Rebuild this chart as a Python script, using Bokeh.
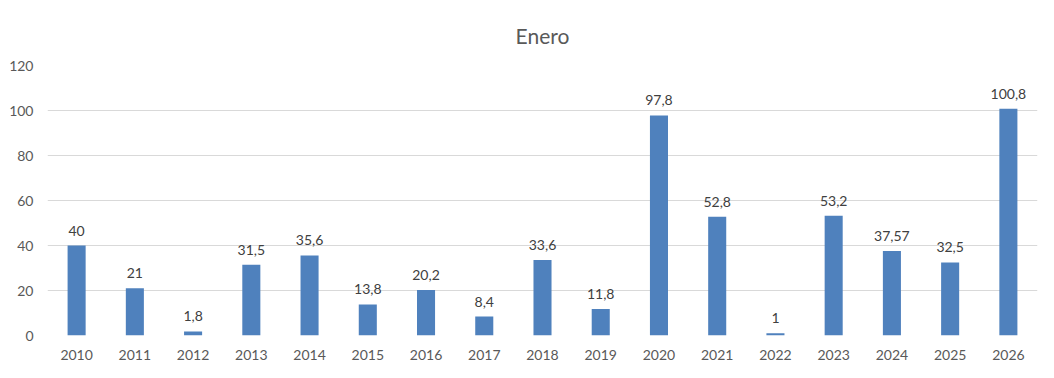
from bokeh.plotting import figure
from bokeh.models import ColumnDataSource, LabelSet, Title
from bokeh.core.properties import value
from bokeh.embed import file_html
from bokeh.resources import INLINE

years = ["2010", "2011", "2012", "2013", "2014", "2015", "2016", "2017", "2018",
         "2019", "2020", "2021", "2022", "2023", "2024", "2025", "2026"]
values = [40, 21, 1.8, 31.5, 35.6, 13.8, 20.2, 8.4, 33.6, 11.8, 97.8, 52.8, 1,
          53.2, 37.57, 32.5, 100.8]
labels = ["40", "21", "1,8", "31,5", "35,6", "13,8", "20,2", "8,4", "33,6",
          "11,8", "97,8", "52,8", "1", "53,2", "37,57", "32,5", "100,8"]
y_ticks = [0, 20, 40, 60, 80, 100, 120]
title_text = "Enero"

FONT = "Lato"
src = ColumnDataSource(dict(year=years, value=values, label=labels))

p = figure(x_range=years, y_range=(0, 120), width=1038, height=362,
           output_backend="svg", toolbar_location=None,
           min_border_left=47, min_border_right=1, min_border_top=65,
           min_border_bottom=25)
p.title = Title(text=title_text, align="center", text_font=FONT,
                text_font_size="21px", text_color="#595959",
                text_font_style="normal", standoff=36)
p.vbar(x="year", top="value", width=0.31, source=src, color="#4f81bd",
       line_color=None)
p.add_layout(LabelSet(x="year", y="value", text="label", source=src,
                      y_offset=10, text_align="center", text_baseline="bottom",
                      text_font=value(FONT), text_font_size="14px",
                      text_color="#404040"))

p.yaxis.ticker = y_ticks
p.xaxis.axis_line_color = None
p.yaxis.axis_line_color = None
p.xaxis.major_tick_line_color = None
p.yaxis.major_tick_line_color = None
p.xaxis.minor_tick_line_color = None
p.yaxis.minor_tick_line_color = None
for ax in (p.xaxis, p.yaxis):
    ax.major_label_text_font = FONT
    ax.major_label_text_font_size = "14px"
    ax.major_label_text_color = "#595959"
p.yaxis.major_label_standoff = 8
p.xaxis.major_label_standoff = 8
p.xgrid.grid_line_color = None
p.ygrid.grid_line_color = "#d9d9d9"
p.outline_line_color = None
p.border_fill_color = "white"

open("out.html", "w").write(file_html(p, INLINE))
